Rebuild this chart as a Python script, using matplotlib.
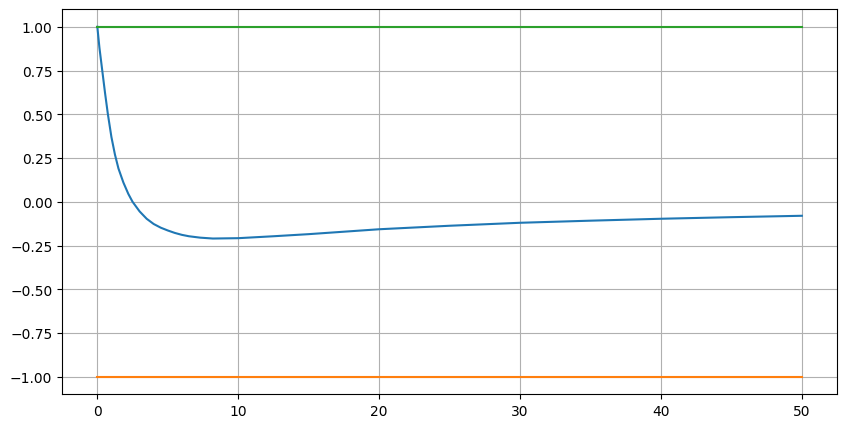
import matplotlib
matplotlib.use("Agg")
import matplotlib.pyplot as plt

# Data
t = [0, 0.15, 0.35, 0.55, 0.75, 1.0, 1.25, 1.5, 1.85, 2.2, 2.5, 3.0, 3.5, 4.0, 4.5,
     5.0, 5.5, 6.0, 6.5, 7.3, 8.2, 10, 12.5, 15, 17.5, 20, 25, 30, 35, 40, 45, 50]
response = [1.0, 0.88, 0.75, 0.62, 0.5, 0.37, 0.27, 0.19, 0.11, 0.045, 0.0, -0.055,
            -0.097, -0.127, -0.148, -0.164, -0.178, -0.189, -0.197, -0.205, -0.21,
            -0.208, -0.197, -0.185, -0.171, -0.157, -0.137, -0.12, -0.108, -0.097,
            -0.088, -0.08]
lower = [-1.0, -1.0]
upper = [1.0, 1.0]
t_bounds = [0, 50]

# Plot
plt.figure(figsize=(10, 5))
plt.plot(t, response)
plt.plot(t_bounds, lower)
plt.plot(t_bounds, upper)
plt.grid(True)

plt.savefig("out.png", bbox_inches="tight")
